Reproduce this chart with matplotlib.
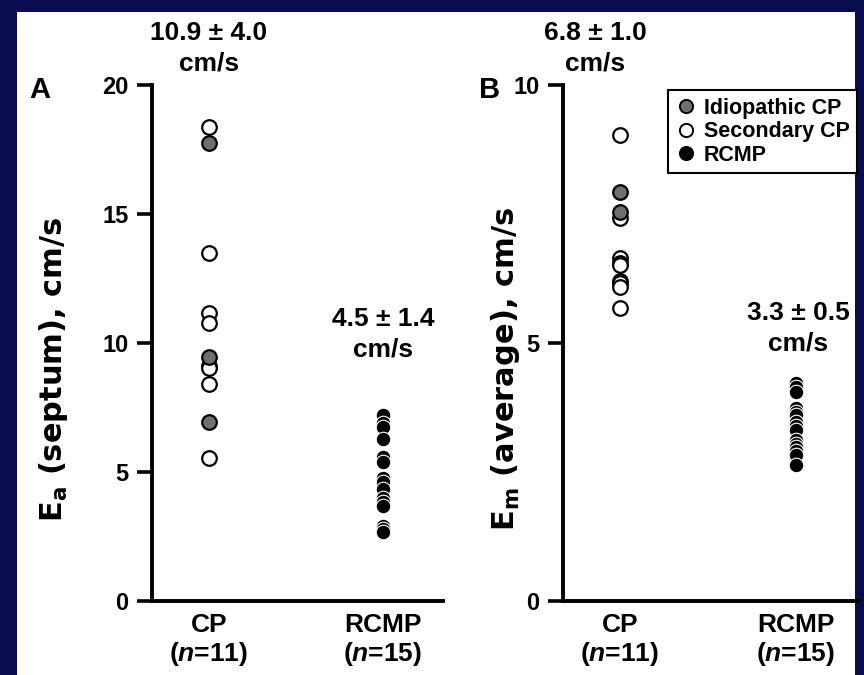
import matplotlib
matplotlib.use('Agg')
import matplotlib.pyplot as plt
from matplotlib.patches import Rectangle
from matplotlib.lines import Line2D

plt.rcParams['font.family'] = ['Liberation Sans', 'DejaVu Sans']
plt.rcParams['font.weight'] = 'bold'
plt.rcParams['mathtext.fontset'] = 'custom'
plt.rcParams['mathtext.rm'] = 'Liberation Sans:bold'
plt.rcParams['mathtext.it'] = 'Liberation Sans:italic:bold'
plt.rcParams['mathtext.bf'] = 'Liberation Sans:bold'

# data
group_labels = ['CP\n($n$=11)', 'RCMP\n($n$=15)']

ea_cp_idio = [17.75, 9.46, 6.94]
ea_cp_sec = [18.37, 13.49, 11.16, 10.78, 9.10, 9.03, 8.41, 5.54]
ea_rcmp = [7.2, 6.9, 6.74, 6.28, 5.58, 5.39, 4.77, 4.6, 4.34, 4.0, 3.84, 3.7, 2.91, 2.8, 2.67]
ea_text = ['10.9 \u00b1 4.0\ncm/s', '4.5 \u00b1 1.4\ncm/s']
ea_ticks = [0, 5, 10, 15, 20]

em_cp_idio = [7.93, 7.54]
em_cp_sec = [9.03, 7.42, 6.65, 6.55, 6.51, 6.2, 6.16, 6.09, 5.68]
em_rcmp = [4.22, 4.15, 4.05, 3.74, 3.67, 3.60, 3.47, 3.40, 3.31, 3.12, 3.05, 2.98, 2.90, 2.83, 2.64]
em_text = ['6.8 \u00b1 1.0\ncm/s', '3.3 \u00b1 0.5\ncm/s']
em_ticks = [0, 5, 10]

navy = '#0a0d4d'
gray = '#6f6f6f'

fig = plt.figure(figsize=(8.64, 6.75), dpi=100, facecolor=navy)
bg = Rectangle((17/864, 0), (855-17)/864, 1 - 12/675,
               transform=fig.transFigure, facecolor='white',
               edgecolor='none', zorder=-10)
fig.patches.append(bg)

ax1 = fig.add_axes([152/864, 1-601/675, (443-152)/864, (601-85)/675])
ax2 = fig.add_axes([563/864, 1-601/675, (858-563)/864, (601-85)/675])


def panel(ax, idio, sec, rcmp, ymax, ticks, xlim, ylabel, labx):
    ax.set_facecolor('none')
    ax.scatter([1]*len(sec), sec, s=110, facecolor='white', edgecolor='black', linewidth=1.6, zorder=3, clip_on=False)
    ax.scatter([1]*len(idio), idio, s=110, facecolor=gray, edgecolor='black', linewidth=1.6, zorder=4, clip_on=False)
    ax.scatter([2]*len(rcmp), rcmp, s=110, facecolor='black', edgecolor='white', linewidth=0.8, zorder=3, clip_on=False)
    ax.set_xlim(*xlim)
    ax.set_ylim(0, ymax)
    ax.set_yticks(ticks)
    ax.set_xticks([1, 2])
    ax.set_xticklabels(group_labels, fontsize=19, linespacing=1.12)
    ax.tick_params(axis='x', length=0, pad=9)
    ax.tick_params(axis='y', length=11, width=2.6, labelsize=17, pad=6)
    for s in ['top', 'right']:
        ax.spines[s].set_visible(False)
    for s in ['left', 'bottom']:
        ax.spines[s].set_linewidth(2.8)
    ax.set_ylabel(ylabel, fontsize=22, fontweight='bold', family='DejaVu Sans')
    ax.yaxis.set_label_coords(labx, 0.45)


panel(ax1, ea_cp_idio, ea_cp_sec, ea_rcmp, 20, ea_ticks, (0.672, 2.345),
      r'E$_\mathregular{a}$ (septum), cm/s', (70-152)/291)
panel(ax2, em_cp_idio, em_cp_sec, em_rcmp, 10, em_ticks, (0.676, 2.352),
      r'E$_\mathregular{m}$ (average), cm/s', (522-563)/295)

# group mean annotations
fig.text(209/864, 1-48/675, ea_text[0], ha='center', va='center', fontsize=19, linespacing=1.35)
fig.text(383/864, 1-334/675, ea_text[1], ha='center', va='center', fontsize=19, linespacing=1.35)
fig.text(595/864, 1-48/675, em_text[0], ha='center', va='center', fontsize=19, linespacing=1.35)
fig.text(798/864, 1-328/675, em_text[1], ha='center', va='center', fontsize=19, linespacing=1.35)

fig.text(40/864, 1-90/675, 'A', ha='center', va='center', fontsize=21)
fig.text(490/864, 1-90/675, 'B', ha='center', va='center', fontsize=21)

handles = [
    Line2D([], [], ls='none', marker='o', ms=9.5, mfc=gray, mec='black', mew=1.4, label='Idiopathic CP'),
    Line2D([], [], ls='none', marker='o', ms=9.5, mfc='white', mec='black', mew=1.4, label='Secondary CP'),
    Line2D([], [], ls='none', marker='o', ms=9.5, mfc='black', mec='black', mew=1.4, label='RCMP'),
]
leg = ax2.legend(handles=handles, loc='upper right', bbox_to_anchor=(857/864, 1-90/675),
                 bbox_transform=fig.transFigure, frameon=True, fancybox=False,
                 edgecolor='black', framealpha=1, fontsize=15.5, handletextpad=0.3,
                 borderpad=0.35, labelspacing=0.12, handlelength=1.0, borderaxespad=0)
leg.get_frame().set_linewidth(1.5)

fig.savefig('out.png', dpi=100, facecolor=navy)
